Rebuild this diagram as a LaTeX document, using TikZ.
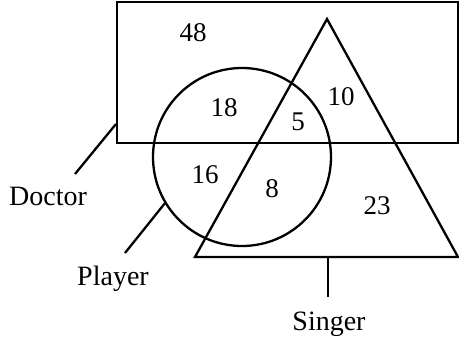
\documentclass[tikz,border=0pt]{standalone}
\usepackage{fontspec}
\setmainfont{Liberation Serif}
\usetikzlibrary{positioning}

\begin{document}
\begin{tikzpicture}[
  x=1pt, y=-1pt,
  set/.style={draw, line width=2.3pt},
  leader/.style={line width=2.3pt},
  lbl/.style={font=\fontsize{28}{32}\selectfont, inner sep=0pt, anchor=base},
  num/.style={font=\fontsize{27}{32}\selectfont, inner sep=0pt}
]
\useasboundingbox (0,0) rectangle (459,346);

\node[set, rectangle, minimum width=341pt, minimum height=141pt, anchor=north west] (doctor set) at (116,1) {};
\node[set, circle, minimum size=178pt, inner sep=0pt] (player set) at (242,157) {};
\coordinate (apex) at (327,19);
\coordinate (base left) at (195,257);
\coordinate (base right) at (458,257);
\draw[set, line join=miter] (apex) -- (base left) -- (base right) -- cycle;

\node[num] (n48) at (193,33) {48};
\node[num] (n18) at (224,108) {18};
\node[num] (n10) at (341,97) {10};
\node[num] (n5) at (298,122) {5};
\node[num] (n16) at (205,175) {16};
\node[num] (n8) at (272,189) {8};
\node[num] (n23) at (377,206) {23};

\node[lbl] (doctor) at (48,205) {Doctor};
\node[lbl] (player) at (113,285) {Player};
\node[lbl] (singer) at (329,330) {Singer};

\coordinate (doctor tip) at (116,124);
\coordinate (doctor end) at (75,174);
\coordinate (player end) at (125,253);
\coordinate (singer tip) at (328,257);
\coordinate (singer end) at (328,297);

\draw[leader] (doctor tip) -- (doctor end);
\draw[leader] (player set.211) -- (player end);
\draw[leader] (singer tip) -- (singer end);
\end{tikzpicture}
\end{document}
